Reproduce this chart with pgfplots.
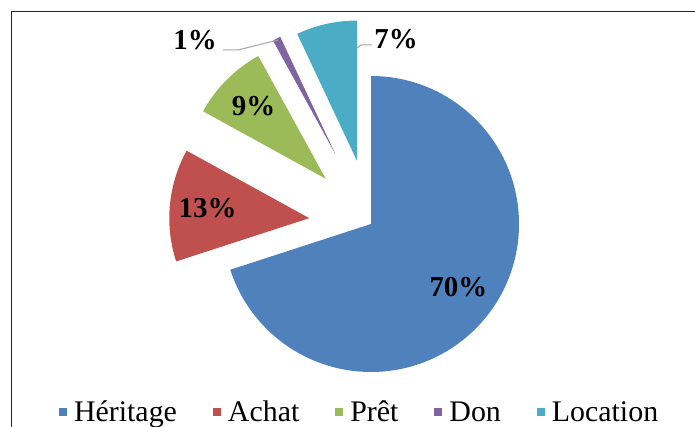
\documentclass[border=0pt]{standalone}
\usepackage{pgfplots}
\pgfplotsset{compat=1.18}
\usepackage{pgfplotstable}
\usepackage{fontspec}
\setmainfont{Liberation Serif}

\definecolor{cHer}{HTML}{4F81BD}
\definecolor{cAch}{HTML}{C0504D}
\definecolor{cPre}{HTML}{9BBB59}
\definecolor{cDon}{HTML}{8064A2}
\definecolor{cLoc}{HTML}{4BACC6}
\definecolor{leader}{HTML}{A6A6A6}

% share in %, explode offset and radius in bp
\pgfplotstableread{
value explode radius col
70 0  148 cHer
13 62 140 cAch
9  64 140 cPre
1  78 130 cDon
7  65 140 cLoc
}\piedata

\newcommand\cx{371}
\newcommand\cy{203}
\newcommand\lblfont{\fontsize{29}{33}\selectfont\bfseries}

\begin{document}
\begin{tikzpicture}
\begin{axis}[
    width=695bp, height=427bp, scale only axis,
    xmin=0, xmax=695, ymin=0, ymax=427,
    hide axis, clip=false,
    legend columns=-1,
    legend image code/.code={\fill[#1] (0bp,-4bp) rectangle (8bp,4bp);},
    legend style={at={(0.516,0.035)}, anchor=center, draw=none, fill=none,
        font=\fontsize{30}{34}\selectfont,
        /tikz/every odd column/.style={column sep=7bp},
        /tikz/every even column/.style={column sep=36bp},
        nodes={inner sep=0bp}},
]
% chart frame (clipped at right and bottom in the original)
\draw[line width=1bp, black!85] (axis cs:11.5,-2) -- (axis cs:11.5,415) -- (axis cs:697,415);

\xdef\cum{0}
\pgfplotsinvokeforeach{0,...,4}{
    \pgfplotstablegetelem{#1}{value}\of\piedata \let\val\pgfplotsretval
    \pgfplotstablegetelem{#1}{explode}\of\piedata \let\ex\pgfplotsretval
    \pgfplotstablegetelem{#1}{radius}\of\piedata \let\rad\pgfplotsretval
    \pgfplotstablegetelem{#1}{col}\of\piedata \let\col\pgfplotsretval
    \pgfmathsetmacro\aS{90-3.6*\cum}
    \pgfmathsetmacro\aE{\aS-3.6*\val}
    \pgfmathsetmacro\aM{(\aS+\aE)/2}
    \pgfmathsetmacro\px{\cx+\ex*cos(\aM)}
    \pgfmathsetmacro\py{\cy+\ex*sin(\aM)}
    \pgfmathsetmacro\sx{\px+\rad*cos(\aS)}
    \pgfmathsetmacro\sy{\py+\rad*sin(\aS)}
    \edef\slicecmd{\noexpand\fill[\col] (axis cs:\px,\py) -- (axis cs:\sx,\sy)
        arc[start angle=\aS, end angle=\aE, radius=\rad bp] -- cycle;}
    \slicecmd
    \ifdim\val pt>8pt
        \pgfmathsetmacro\lx{\px+0.73*\rad*cos(\aM)}
        \pgfmathsetmacro\ly{\py+0.73*\rad*sin(\aM)}
        \edef\labcmd{\noexpand\node[font=\noexpand\lblfont, inner sep=0pt]
            at (axis cs:\lx,\ly) {\val\noexpand\%};}
        \labcmd
    \fi
    \pgfmathsetmacro\cumn{\cum+\val}
    \xdef\cum{\cumn}
}

% outside labels with leader lines
\draw[leader, line width=1bp] (axis cs:223,377) -- (axis cs:238,377) -- (axis cs:278,387);
\node[font=\lblfont, inner sep=0pt] at (axis cs:195,387) {1\%};
\draw[leader, line width=1bp] (axis cs:357,379) -- (axis cs:361,382) -- (axis cs:372,382);
\node[font=\lblfont, inner sep=0pt] at (axis cs:396,388) {7\%};

\addlegendimage{fill=cHer, draw=none}\addlegendentry{Héritage}
\addlegendimage{fill=cAch, draw=none}\addlegendentry{Achat}
\addlegendimage{fill=cPre, draw=none}\addlegendentry{Prêt}
\addlegendimage{fill=cDon, draw=none}\addlegendentry{Don}
\addlegendimage{fill=cLoc, draw=none}\addlegendentry{Location}
\end{axis}
\pgfresetboundingbox
\useasboundingbox (current axis.south west) rectangle (current axis.north east);
\end{tikzpicture}
\end{document}
